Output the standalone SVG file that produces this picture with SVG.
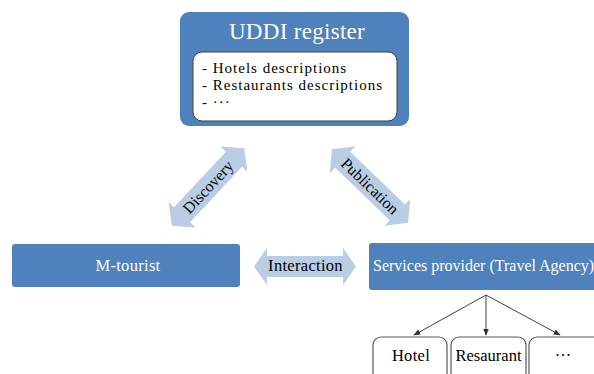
<svg xmlns="http://www.w3.org/2000/svg" width="594" height="374" viewBox="0 0 594 374">
<style>
.box{fill:#4f81bd;}
.arr{fill:#b9cde5;}
.wt{fill:#ffffff;font-family:"Liberation Serif",serif;}
.bk{fill:#000000;font-family:"Liberation Serif",serif;}
.leaf{fill:#ffffff;stroke:#595959;stroke-width:1.2;}
.conn{stroke:#404040;stroke-width:1;fill:none;marker-end:url(#ah);}
</style>
<defs>
<marker id="ah" viewBox="0 0 10 10" refX="9" refY="5" markerWidth="7" markerHeight="7" orient="auto" markerUnits="userSpaceOnUse">
<path d="M0,1 L10,5 L0,9 z" fill="#303030"/>
</marker>
</defs>
<rect width="594" height="374" fill="#ffffff"/>
<g id="uddi">
<rect class="box" x="180" y="12" width="229" height="114" rx="9"/>
<rect x="193" y="52" width="204" height="69" rx="9" fill="#ffffff" stroke="#404040" stroke-width="1"/>
<text class="wt" x="297" y="39" font-size="23" text-anchor="middle" letter-spacing="0.3">UDDI register</text>
<text class="bk" font-size="15" letter-spacing="1">
<tspan x="202" y="73">- Hotels descriptions</tspan>
<tspan x="202" y="90">- Restaurants descriptions</tspan>
<tspan x="202" y="107">- ···</tspan>
</text>
</g>
<g id="mtourist">
<rect class="box" x="12" y="244" width="228" height="43" rx="3"/>
<text class="wt" x="128" y="271" font-size="16.5" text-anchor="middle" letter-spacing="0.3">M-tourist</text>
</g>
<g id="provider">
<rect class="box" x="369" y="243" width="240" height="47" rx="3"/>
<text class="wt" x="373" y="271" font-size="16">Services provider (Travel Agency)</text>
</g>
<g id="hotel">
<rect class="leaf" x="373" y="337" width="74" height="50" rx="8"/>
<text class="bk" x="411" y="361" font-size="16.5" text-anchor="middle" letter-spacing="0.3">Hotel</text>
</g>
<g id="resaurant">
<rect class="leaf" x="451" y="337" width="75" height="50" rx="8"/>
<text class="bk" x="488.5" y="361" font-size="16.5" text-anchor="middle">Resaurant</text>
</g>
<g id="more">
<rect class="leaf" x="529" y="337" width="80" height="50" rx="8"/>
<text class="bk" x="563" y="361" font-size="16.5" text-anchor="middle">···</text>
</g>
<g id="connectors">
<g id="discovery" transform="translate(208,187) rotate(-47)">
<polygon class="arr" points="-53,0 -38,-18.5 -38,-11 38,-11 38,-18.5 53,0 38,18.5 38,11 -38,11 -38,18.5"/>
<text class="bk" x="0" y="5.5" font-size="16" text-anchor="middle">Discovery</text>
</g>
<g id="publication" transform="translate(370,186) rotate(44)">
<polygon class="arr" points="-53,0 -38,-18.5 -38,-11 38,-11 38,-18.5 53,0 38,18.5 38,11 -38,11 -38,18.5"/>
<text class="bk" x="0" y="5.5" font-size="16" text-anchor="middle">Publication</text>
</g>
<g id="interaction">
<polygon class="arr" points="254,266.5 267,248 267,256 343,256 343,248 356,266.5 343,285 343,277 267,277 267,285"/>
<text class="bk" x="305.5" y="271" font-size="16.5" text-anchor="middle" letter-spacing="0.3">Interaction</text>
</g>
<path class="conn" d="M486,295 L414,335"/>
<path class="conn" d="M486,295 L486,335"/>
<path class="conn" d="M486,295 L560,335"/>
</g>
</svg>
